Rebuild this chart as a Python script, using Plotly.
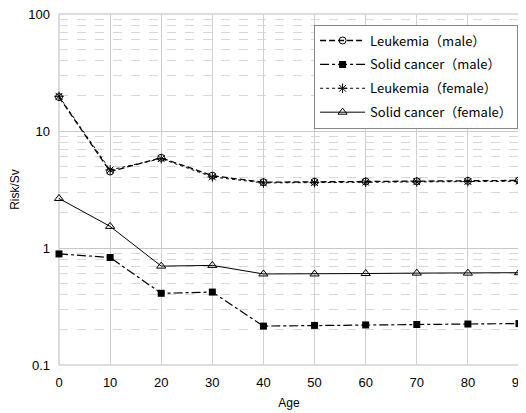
import plotly.graph_objects as go

ages = [0, 10, 20, 30, 40, 50, 60, 70, 80, 90]
leuk_male = [19.5, 4.5, 5.9, 4.15, 3.65, 3.68, 3.7, 3.72, 3.75, 3.78]
solid_male = [0.89, 0.83, 0.41, 0.42, 0.215, 0.218, 0.22, 0.222, 0.224, 0.226]
leuk_female = [19.8, 4.65, 5.8, 4.05, 3.6, 3.62, 3.65, 3.68, 3.7, 3.72]
solid_female = [2.65, 1.53, 0.70, 0.71, 0.60, 0.60, 0.605, 0.61, 0.61, 0.615]

names = ["Leukemia（male）", "Solid cancer（male）", "Leukemia（female）", "Solid cancer（female）"]

fig = go.Figure()
fig.add_trace(go.Scatter(x=ages, y=leuk_male, name=names[0], legendgroup="a", mode="lines+markers",
                         line=dict(color="black", width=1.3, dash="6px,3px"),
                         marker=dict(symbol="circle-open", size=7, color="black", line=dict(width=1)),
                         cliponaxis=False))
fig.add_trace(go.Scatter(x=ages, y=solid_male, name=names[1], legendgroup="b", mode="lines+markers",
                         line=dict(color="black", width=1.2, dash="dashdot"),
                         marker=dict(symbol="square", size=7, color="black"),
                         cliponaxis=False))
fig.add_trace(go.Scatter(x=ages, y=leuk_female, name=names[2], legendgroup="c", mode="lines+markers",
                         line=dict(color="black", width=1, dash="dot"),
                         marker=dict(symbol="asterisk-open", size=8, color="black", line=dict(width=1)),
                         cliponaxis=False))
fig.add_trace(go.Scatter(x=ages, y=solid_female, name=names[3], legendgroup="d", mode="lines+markers",
                         line=dict(color="black", width=1),
                         marker=dict(symbol="triangle-up-open", size=8, color="black", line=dict(width=1)),
                         cliponaxis=False))

# page body adds an 8px offset; figure is sized so the plot area lands where the reference has it
fig.update_layout(
    width=518, height=405,
    margin=dict(l=51, r=7, t=6, b=48),
    paper_bgcolor="white", plot_bgcolor="white",
    font=dict(family="Liberation Sans, Arial, sans-serif", size=13, color="black"),
    showlegend=True,
    legend=dict(x=0.998, y=0.97, xanchor="right", yanchor="top",
                bgcolor="white", bordercolor="#888", borderwidth=1,
                font=dict(family="Noto Sans CJK JP, sans-serif", size=13),
                tracegroupgap=4, itemwidth=45),
    xaxis=dict(range=[0, 90], tickvals=ages, showgrid=True, gridcolor="#d0d0d0", gridwidth=1,
               zeroline=False, showline=False, ticks="", ticklabelstandoff=8, automargin=False,
               ticklabeloverflow="allow",
               title=dict(text="Age", font=dict(size=12), standoff=9)),
    yaxis=dict(type="log", range=[-1, 2], tickvals=[0.1, 1, 10, 100], ticktext=["0.1", "1", "10", "100"],
               showgrid=True, gridcolor="#c8c8c8", gridwidth=1, zeroline=False, showline=False, ticks="",
               ticklabelstandoff=8, automargin=False, ticklabeloverflow="allow",
               minor=dict(showgrid=True, gridcolor="#d8d8d8", griddash="dash", tickvals=[
                   m * d for d in [0.1, 1, 10] for m in range(2, 10)]),
               title=dict(text="Risk/Sv", font=dict(size=12), standoff=18)),
)
fig.add_shape(type="rect", xref="paper", yref="paper", x0=0, y0=0, x1=1, y1=1,
              line=dict(color="#bbbbbb", width=1), layer="below")

fig.write_html("out.html")
